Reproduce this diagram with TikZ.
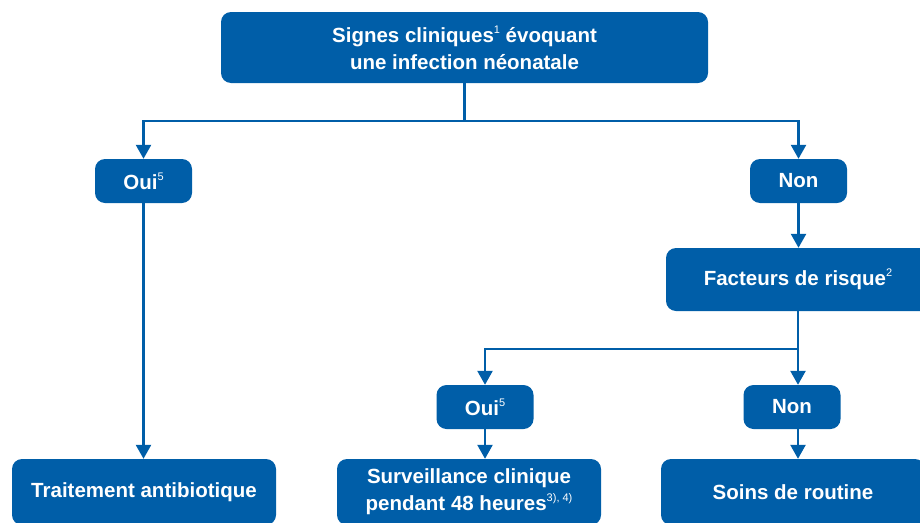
\documentclass[tikz,border=0pt]{standalone}
\usepackage{fontspec}
\setmainfont{Liberation Sans}
\usetikzlibrary{arrows.meta}
\definecolor{bleu}{RGB}{0,94,168}
\newcommand{\expo}[1]{\raisebox{0.45em}{\fontsize{11}{11}\selectfont\mdseries #1}}

\begin{document}
\begin{tikzpicture}[x=1pt, y=-1pt,
        box_node/.style={rectangle, rounded corners=10pt, fill=bleu, text=white, inner sep=0pt, align=center, font=\fontsize{20.5}{27}\selectfont\bfseries},
        small_node/.style={box_node, minimum width=97pt, minimum height=44pt},
        end_node/.style={box_node, minimum width=264pt, minimum height=66pt},
        flow/.style={draw=bleu, line width=2.5pt, -{Triangle[width=15pt,length=14pt]}},
        ]
            \useasboundingbox (0,0) rectangle (920,522);
            \clip (0,0) rectangle (920,522);

            % question
            \node[box_node, minimum width=487pt, minimum height=71pt]  (signes)   at (464.5,47.5)  {Signes cliniques\expo{1} évoquant\\une infection néonatale};
            \node[small_node]   (oui_1)    at (143.5,181)   {Oui\expo{5}};
            \node[small_node]   (non_1)    at (798.5,181)   {Non};
            % risque
            \node[box_node, minimum width=264pt, minimum height=63pt]  (facteurs) at (798,279.5)   {Facteurs de risque\expo{2}};
            \node[small_node]   (oui_2)    at (485,407)     {Oui\expo{5}};
            \node[small_node]   (non_2)    at (792,407)     {Non};
            % issues
            \node[end_node]     (traitement)   at (144,492)  {Traitement antibiotique};
            \node[end_node]     (surveillance) at (469,492)  {Surveillance clinique\\pendant 48 heures\expo{3), 4)}};
            \node[end_node]     (soins)        at (793,492)  {Soins de routine};

            \coordinate (split_1) at (464.5,121);
            \coordinate (split_2) at (798,349);

            % Lines
            \draw[draw=bleu, line width=2.5pt] (signes.south) -- (split_1);
            \draw[flow] (split_1) -| (oui_1.north);
            \draw[flow] (split_1) -| (non_1.north);
            \draw[flow] (non_1.south) -- (non_1.south |- facteurs.north);
            \draw[flow] (oui_1.south) -- (oui_1.south |- traitement.north);
            \draw[draw=bleu, line width=2.5pt] (facteurs.south) -- (split_2);
            \draw[flow] (split_2) -| (oui_2.north);
            \draw[flow] (split_2) -- (split_2 |- non_2.north);
            \draw[flow] (oui_2.south) -- (oui_2.south |- surveillance.north);
            \draw[flow] (split_2 |- non_2.south) -- (split_2 |- soins.north);

        \end{tikzpicture}
\end{document}
